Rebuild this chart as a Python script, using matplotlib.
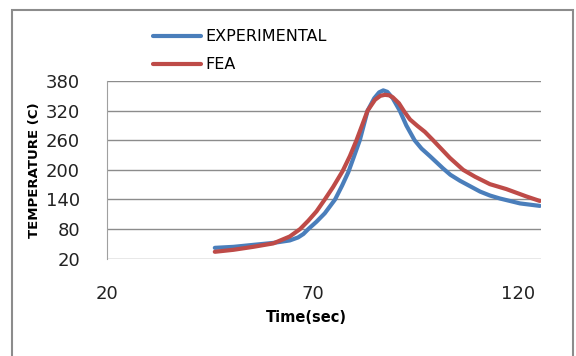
import matplotlib
matplotlib.use('Agg')
import matplotlib.pyplot as plt
from matplotlib.patches import Rectangle

plt.rcParams['font.family'] = ['DejaVu Sans']

# experimental curve
exp_time = [46.3, 50.8, 55.6, 60.5, 64.5, 66.5, 67.8, 69.0, 71.0, 73.0, 75.5,
            77.2, 78.7, 80.0, 81.5, 83.4, 85.0, 86.2, 87.2, 88.2, 89.5, 91.2,
            92.8, 94.8, 96.5, 98.5, 101.7, 103.5, 105.8, 110.7, 113.1, 115.5,
            120.4, 125.2]
exp_temp = [42, 44, 48, 52, 57, 63, 70, 80, 95, 112, 140,
            168, 195, 225, 260, 320, 345, 357, 361, 358, 345, 320,
            290, 260, 243, 228, 203, 190, 178, 156, 148, 142,
            132, 127]

# FEA curve
fea_time = [46.3, 50.8, 55.6, 60.5, 64.5, 67.0, 69.0, 71.0, 73.0, 75.0, 77.3,
            79.1, 80.7, 83.4, 85.2, 86.5, 87.6, 88.6, 89.5, 91.0, 92.3, 93.7,
            95.5, 97.3, 99.3, 103.4, 106.6, 109.5, 113.1, 117.1, 122.0, 125.2]
fea_temp = [34, 38, 44, 51, 65, 80, 97, 116, 140, 165, 197,
            228, 260, 320, 342, 350, 352, 351, 347, 335, 318, 302,
            289, 277, 260, 224, 200, 186, 171, 161, 146, 137]

yticks = [20, 80, 140, 200, 260, 320, 380]
xticks = [20, 70, 120]


def main():
    fig = plt.figure(figsize=(5.76, 3.56), dpi=100)
    fig.patches.append(Rectangle((12 / 576, -0.05), 561 / 576, 1.0 - 10 / 356 + 0.05,
                                 transform=fig.transFigure, fill=False,
                                 edgecolor='#8c8c8c', linewidth=1.5))
    ax = fig.add_axes([106.5 / 576, 1 - 258.7 / 356, (541 - 106.5) / 576, (258.7 - 81) / 356])

    ax.plot(exp_time, exp_temp, color='#4A7EBB', linewidth=3, label='EXPERIMENTAL',
            solid_capstyle='round', solid_joinstyle='round')
    ax.plot(fea_time, fea_temp, color='#BE4B48', linewidth=3, label='FEA',
            solid_capstyle='round', solid_joinstyle='round')

    ax.set_xlim(20, 125.5)
    ax.set_ylim(20, 380)
    ax.set_xticks(xticks)
    ax.set_yticks(yticks)
    ax.grid(axis='y', color='#8c8c8c', linewidth=1)
    ax.set_axisbelow(True)
    for s in ['top', 'right', 'bottom']:
        ax.spines[s].set_visible(False)
    ax.spines['left'].set_color('#a0a0a0')
    ax.tick_params(length=0, labelsize=13, colors='#222222')
    ax.tick_params(axis='y', pad=19)
    ax.tick_params(axis='x', pad=19)

    fig.text(35 / 576, 1 - 170 / 356, 'TEMPERATURE (C)', rotation=90, fontsize=9.5,
             fontweight='bold', ha='center', va='center')
    fig.text(306 / 576, 1 - 317 / 356, 'Time(sec)', fontsize=10.5,
             fontweight='bold', ha='center', va='center')

    fig.legend(loc='upper left', bbox_to_anchor=(138.5 / 576, 1 - 15 / 356), frameon=False,
               fontsize=11.5, handlelength=3.0, handletextpad=0.3, labelspacing=0.8)

    fig.savefig('out.png', dpi=100)


if __name__ == '__main__':
    main()
